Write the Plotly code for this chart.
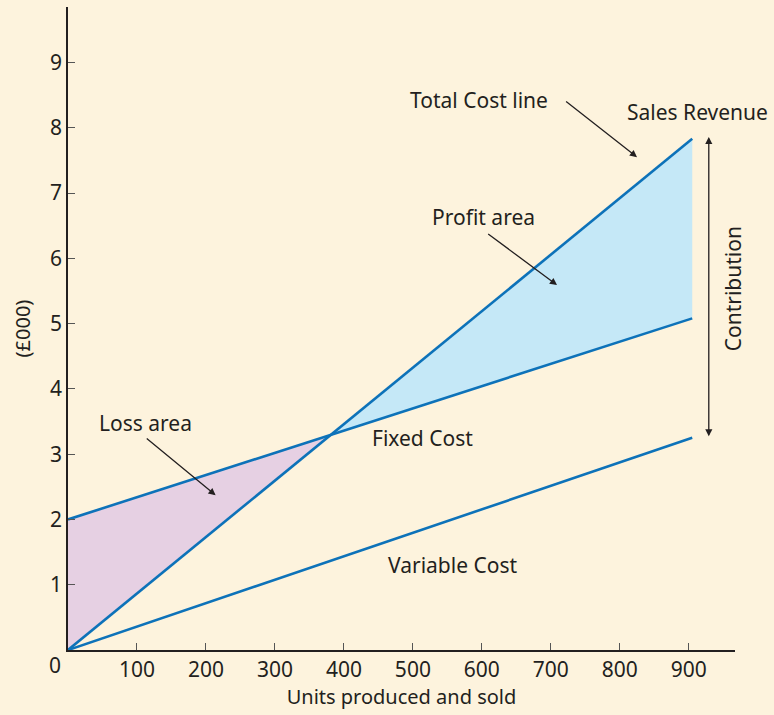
import plotly.graph_objects as go

# Data
units = [0, 905]
sales_revenue = [0, 7.83]
total_cost = [2.0, 5.08]
variable_cost = [0, 3.25]
x_ticks = [100, 200, 300, 400, 500, 600, 700, 800, 900]
y_ticks = [1, 2, 3, 4, 5, 6, 7, 8, 9]

LINE = "#0d72b9"
TXT = "#231f20"
BG = "#fdf3dd"
FONT = "Noto Sans"
FS = 21

# break-even point from the two lines
s_slope = (sales_revenue[1] - sales_revenue[0]) / (units[1] - units[0])
c_slope = (total_cost[1] - total_cost[0]) / (units[1] - units[0])
be_x = (total_cost[0] - sales_revenue[0]) / (s_slope - c_slope)
be_y = sales_revenue[0] + s_slope * be_x

fig = go.Figure()
# loss area
fig.add_trace(go.Scatter(
    x=[units[0], be_x, units[0], units[0]],
    y=[total_cost[0], be_y, sales_revenue[0], total_cost[0]],
    fill="toself", fillcolor="#e6d0e3", line=dict(width=0), mode="lines",
    hoverinfo="skip", showlegend=False))
# profit area
fig.add_trace(go.Scatter(
    x=[be_x, units[1], units[1], be_x],
    y=[be_y, sales_revenue[1], total_cost[1], be_y],
    fill="toself", fillcolor="#c5e8f7", line=dict(width=0), mode="lines",
    hoverinfo="skip", showlegend=False))
for ys in (sales_revenue, total_cost, variable_cost):
    fig.add_trace(go.Scatter(x=units, y=ys, mode="lines",
                             line=dict(color=LINE, width=2.6),
                             showlegend=False))

ann = []
def text(x, y, s, **kw):
    d = dict(x=x, y=y, text=s, showarrow=False, xref="x", yref="y",
             font=dict(family=FONT, size=FS, color=TXT))
    d.update(kw)
    ann.append(d)

def arrow(x0, y0, x1, y1, side="end"):
    ann.append(dict(x=x1, y=y1, ax=x0, ay=y0, xref="x", yref="y",
                    axref="x", ayref="y", text="", showarrow=True,
                    arrowhead=2, arrowsize=1.1, arrowwidth=1.3,
                    arrowcolor=TXT, arrowside=side, standoff=0, startstandoff=0))

text(596, 8.42, "Total Cost line")
text(913, 8.24, "Sales Revenue")
text(603, 6.63, "Profit area")
text(112, 3.48, "Loss area")
text(514, 3.25, "Fixed Cost")
text(558, 1.30, "Variable Cost")
text(964, 5.54, "Contribution", textangle=-90)
# shared origin label, placed below-left of the corner
ann.append(dict(x=-0.0195, y=-0.0233, xref="paper", yref="paper", text="0",
                xanchor="center", yanchor="middle",
                showarrow=False, font=dict(family=FONT, size=FS, color=TXT)))

arrow(720, 8.42, 825, 7.55)
arrow(607, 6.39, 709, 5.59)
arrow(112, 3.26, 214, 2.37)
arrow(929, 3.25, 929, 7.86, side="end+start")

fig.update_layout(
    width=774, height=715,
    paper_bgcolor=BG, plot_bgcolor=BG,
    margin=dict(l=68, r=39, t=7, b=65),
    font=dict(family=FONT, size=FS, color=TXT),
    annotations=ann,
    xaxis=dict(range=[0, 967], tickvals=x_ticks, ticks="inside", ticklen=7,
               tickcolor="#555", showline=True, linecolor=TXT, linewidth=1.5,
               showgrid=False, zeroline=False, tickfont=dict(size=FS),
               title=dict(text="Units produced and sold", standoff=6,
                          font=dict(size=20))),
    yaxis=dict(range=[0, 9.85], tickvals=y_ticks, ticks="inside", ticklen=7,
               tickcolor="#555", showline=True, linecolor=TXT, linewidth=1.5,
               showgrid=False, zeroline=False, tickfont=dict(size=FS),
               title=dict(text="(£000)", standoff=14, font=dict(size=20))),
)

fig.write_html("out.html", config={"displayModeBar": False},
               post_script="document.body.style.margin='0';document.body.style.background='%s';" % BG)
